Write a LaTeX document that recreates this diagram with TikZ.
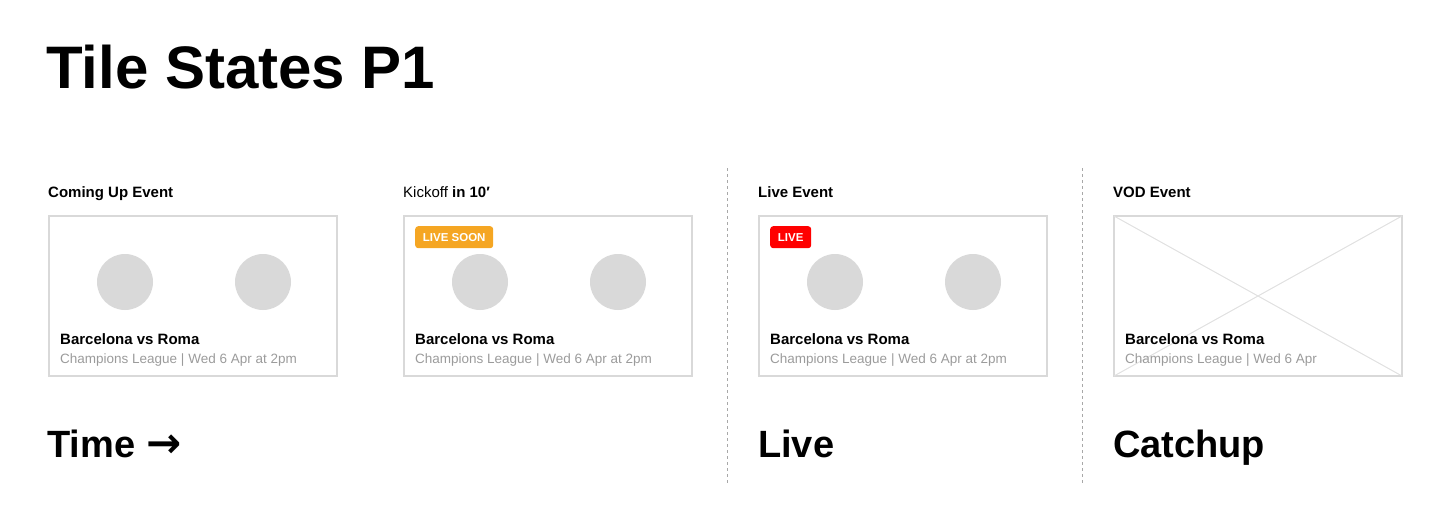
\documentclass[tikz,border=0pt]{standalone}
\usepackage{fontspec}
\setmainfont{Liberation Sans}
\newfontfamily\arrowfont{DejaVu Sans}
\definecolor{tileborder}{HTML}{D9D9D9}
\definecolor{crossgray}{HTML}{E0E0E0}
\definecolor{subgray}{HTML}{9B9B9B}
\definecolor{dashgray}{HTML}{A8A8A8}
\definecolor{soonorange}{HTML}{F5A623}
\definecolor{livered}{HTML}{FF0000}
\begin{document}
\begin{tikzpicture}[x=1pt,y=-1pt,
  card/.style={draw=tileborder, line width=2pt, minimum width=288pt, minimum height=160pt, anchor=north west, inner sep=0pt, outer sep=0pt},
  logo/.style={circle, fill=tileborder, minimum size=56pt, inner sep=0pt},
  badge/.style={rounded corners=3pt, text=white, font=\bfseries\fontsize{11.5}{11.5}\selectfont, inner sep=0pt, minimum height=22pt, anchor=north west},
  heading/.style={anchor=base west, inner sep=0pt, font=\bfseries\fontsize{15}{15}\selectfont},
  match/.style={anchor=base west, inner sep=0pt, font=\bfseries\fontsize{15}{15}\selectfont},
  meta/.style={anchor=base west, inner sep=0pt, text=subgray, font=\fontsize{13.5}{13.5}\selectfont},
  biglabel/.style={anchor=base west, inner sep=0pt, font=\bfseries\fontsize{38}{38}\selectfont},
  divider/.style={draw=dashgray, line width=0.8pt, dash pattern=on 3pt off 3pt}]
\useasboundingbox (0,0) rectangle (1452,522);

\node[anchor=base west, inner sep=0pt, font=\bfseries\fontsize{60}{60}\selectfont] (title) at (46,88) {Tile States P1};

% headings
\node[heading] (h1) at (48,197) {Coming Up Event};
\node[heading, font=\fontsize{15}{15}\selectfont] (h2) at (403,197) {Kickoff \textbf{in 10′}};
\node[heading] (h3) at (758,197) {Live Event};
\node[heading] (h4) at (1113,197) {VOD Event};

% cards
\foreach \i/\x in {1/49,2/404,3/759,4/1114}{
  \node[card] (card\i) at (\x,216) {};
}
\foreach \i/\x in {1/49,2/404,3/759}{
  \node[logo] (home\i) at (\x+76,282) {};
  \node[logo] (away\i) at (\x+214,282) {};
}
\draw[crossgray, line width=1pt] (card4.north west) -- (card4.south east);
\draw[crossgray, line width=1pt] (card4.south west) -- (card4.north east);

% badges
\node[badge, fill=soonorange, minimum width=78pt] (soon) at (415,226) {LIVE SOON};
\node[badge, fill=livered, minimum width=41pt] (live) at (770,226) {LIVE};

% card texts
\foreach \i/\x in {1/49,2/404,3/759}{
  \node[match] (match\i) at (\x+11,344) {Barcelona vs Roma};
  \node[meta] (meta\i) at (\x+11,363) {Champions League | Wed 6 Apr at 2pm};
}
\node[match] (match4) at (1125,344) {Barcelona vs Roma};
\node[meta] (meta4) at (1125,363) {Champions League | Wed 6 Apr};

% big labels
\node[biglabel] (time) at (47,457) {Time\hspace{0.3em}{\arrowfont\bfseries\fontsize{42}{42}\selectfont\raisebox{-0.01em}{→}}};
\node[biglabel] (livelbl) at (758,457) {Live};
\node[biglabel] (catchup) at (1113,457) {Catchup};

% dividers
\coordinate (d1top) at (727.5,168);
\coordinate (d1bot) at (727.5,483);
\coordinate (d2top) at (1082.5,168);
\coordinate (d2bot) at (1082.5,483);
\draw[divider] (d1top) -- (d1bot);
\draw[divider] (d2top) -- (d2bot);
\end{tikzpicture}
\end{document}
